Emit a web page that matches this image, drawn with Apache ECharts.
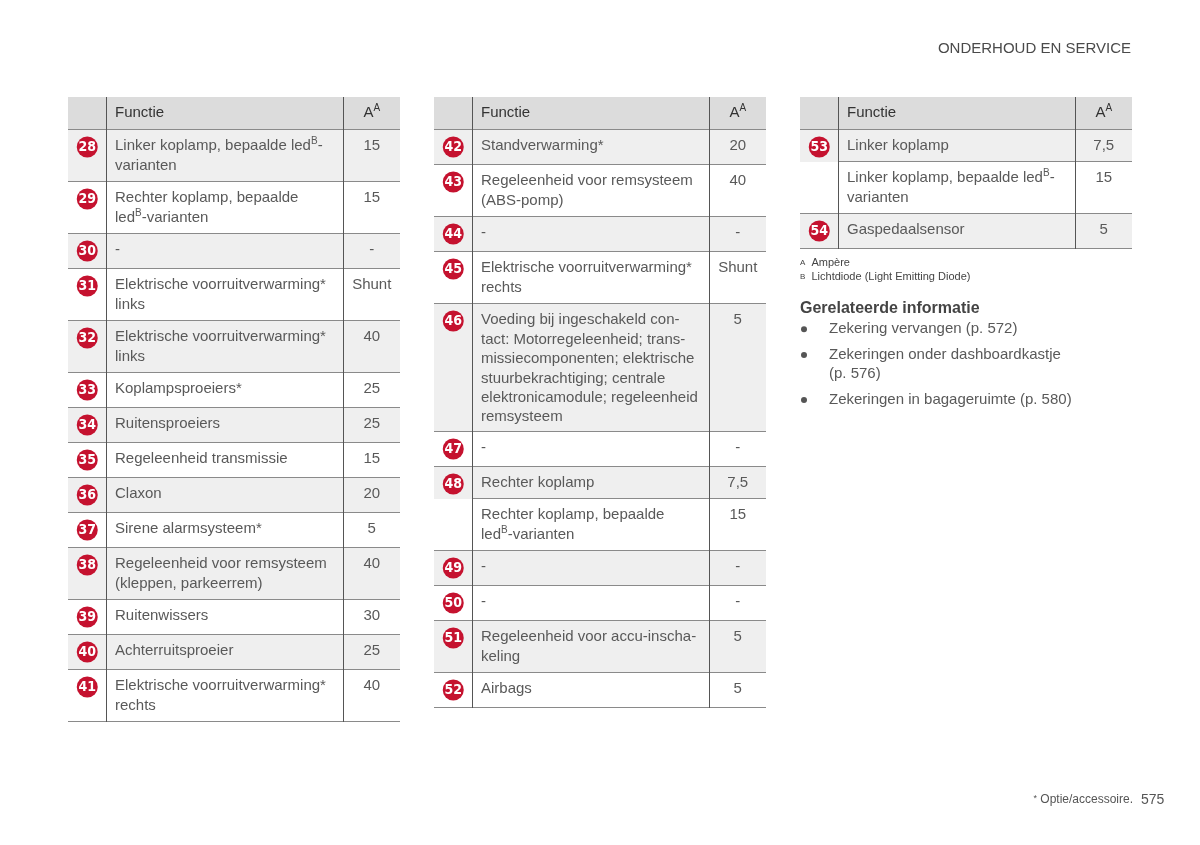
<!DOCTYPE html>
<html>
<head>
<meta charset="utf-8">
<title>Onderhoud en service</title>
<script src="https://cdn.jsdelivr.net/npm/echarts@6/dist/echarts.min.js"></script>
<style>
  html, body { margin: 0; padding: 0; background: #fff; }
  #chart { width: 1200px; height: 845px; }
</style>
</head>
<body>
<div id="chart"></div>
<script>
// tabel 1 (28 - 41)
const fuses1 = ['28', '29', '30', '31', '32', '33', '34', '35', '36', '37', '38', '39', '40', '41'];
const functions1 = [
  'Linker koplamp, bepaalde led^B-\nvarianten',
  'Rechter koplamp, bepaalde\nled^B-varianten',
  '-',
  'Elektrische voorruitverwarming*\nlinks',
  'Elektrische voorruitverwarming*\nlinks',
  'Koplampsproeiers*',
  'Ruitensproeiers',
  'Regeleenheid transmissie',
  'Claxon',
  'Sirene alarmsysteem*',
  'Regeleenheid voor remsysteem\n(kleppen, parkeerrem)',
  'Ruitenwissers',
  'Achterruitsproeier',
  'Elektrische voorruitverwarming*\nrechts'
];
const amps1 = ['15', '15', '-', 'Shunt', '40', '25', '25', '15', '20', '5', '40', '30', '25', '40'];

// tabel 2 (42 - 52), '' = vervolg van de vorige zekering
const fuses2 = ['42', '43', '44', '45', '46', '47', '48', '', '49', '50', '51', '52'];
const functions2 = [
  'Standverwarming*',
  'Regeleenheid voor remsysteem\n(ABS-pomp)',
  '-',
  'Elektrische voorruitverwarming*\nrechts',
  'Voeding bij ingeschakeld con-\ntact: Motorregeleenheid; trans-\nmissiecomponenten; elektrische\nstuurbekrachtiging; centrale\nelektronicamodule; regeleenheid\nremsysteem',
  '-',
  'Rechter koplamp',
  'Rechter koplamp, bepaalde\nled^B-varianten',
  '-',
  '-',
  'Regeleenheid voor accu-inscha-\nkeling',
  'Airbags'
];
const amps2 = ['20', '40', '-', 'Shunt', '5', '-', '7,5', '15', '-', '-', '5', '5'];

// tabel 3 (53 - 54)
const fuses3 = ['53', '', '54'];
const functions3 = [
  'Linker koplamp',
  'Linker koplamp, bepaalde led^B-\nvarianten',
  'Gaspedaalsensor'
];
const amps3 = ['7,5', '15', '5'];

const headerLabels = ['Functie', 'A^A'];
const footnotes = [['A', 'Ampère'], ['B', 'Lichtdiode (Light Emitting Diode)']];
const relatedTitle = 'Gerelateerde informatie';
const relatedLinks = [
  'Zekering vervangen (p. 572)',
  'Zekeringen onder dashboardkastje\n(p. 576)',
  'Zekeringen in bagageruimte (p. 580)'
];
const pageTitle = 'ONDERHOUD EN SERVICE';
const pageNote = 'Optie/accessoire.';
const pageNumber = '575';

const FONT = '"Liberation Sans", Arial, sans-serif';
const TEXT = '#595959';
const LINE_H = 19.4;
const TABLE_TOP = 97;
const TABLE_W = 332;
const HEADER_H = 33;
const BADGE_W = 38;
const VALUE_X = 275;
const tableLeft = [68, 434, 800];

const supRich = {
  sup: { fontSize: 10, fontFamily: FONT, fill: TEXT, verticalAlign: 'top' }
};
function sup(s) {
  return s.replace(/\^(\w)/g, '{sup|$1}');
}

function buildRows(fuses, funcs) {
  let y = HEADER_H;
  const rows = [[0, HEADER_H, -1]];
  for (let i = 0; i < fuses.length; i++) {
    const lines = funcs[i].split('\n').length;
    const grouped = fuses[i] !== '' && fuses[i + 1] === '';
    const h = lines > 1 ? 14 + 19 * lines : (grouped ? 32 : 35);
    rows.push([y, y + h, i]);
    y += h;
  }
  return { rows: rows, height: y };
}

function makeRender(fuses, funcs, amps) {
  return function (params, api) {
    const y0 = api.value(0), y1 = api.value(1), i = api.value(2);
    const tl = api.coord([0, y0]);
    const br = api.coord([TABLE_W, y1]);
    const xb = Math.round(api.coord([BADGE_W, y0])[0]) + 0.5;
    const xv = Math.round(api.coord([VALUE_X, y0])[0]) + 0.5;
    const top = Math.round(tl[1]), bottom = Math.round(br[1]);
    const left = tl[0], right = br[0];
    const isHeader = i < 0;
    const children = [];

    if (isHeader || i % 2 === 0) {
      children.push({
        type: 'rect',
        shape: { x: left, y: top, width: right - left, height: bottom - top },
        style: { fill: isHeader ? '#dcdcdc' : '#efefef' }
      });
    }
    // horizontale lijn onder de rij
    const cont = !isHeader && fuses[i + 1] === '';
    children.push({
      type: 'line',
      shape: { x1: cont ? xb : left, y1: bottom - 0.5, x2: right, y2: bottom - 0.5 },
      style: { stroke: '#8a8a8a', lineWidth: 1 }
    });
    // kolomlijnen
    [xb, xv].forEach(function (x) {
      children.push({
        type: 'line',
        shape: { x1: x, y1: top, x2: x, y2: bottom },
        style: { stroke: '#555', lineWidth: 1 }
      });
    });

    if (isHeader) {
      children.push({
        type: 'text',
        style: {
          text: headerLabels[0], x: xb + 8.5, y: top + 15.5,
          textVerticalAlign: 'middle', font: '15px ' + FONT, fill: '#333'
        }
      });
      children.push({
        type: 'text',
        style: {
          text: sup(headerLabels[1]), x: (xv + right) / 2, y: top + 6,
          textAlign: 'center', textVerticalAlign: 'top', lineHeight: LINE_H,
          font: '15px ' + FONT, fill: '#333',
          rich: { sup: { fontSize: 10, fontFamily: FONT, fill: '#333', verticalAlign: 'top' } }
        }
      });
      return { type: 'group', children: children };
    }

    if (fuses[i] !== '') {
      const cx = left + (xb - left) / 2, cy = top + 17;
      children.push({
        type: 'circle',
        shape: { cx: cx, cy: cy, r: 10.5 },
        style: { fill: '#c5122f' }
      });
      children.push({
        type: 'text',
        style: {
          text: fuses[i], x: cx, y: cy + 0.5, textAlign: 'center', textVerticalAlign: 'middle',
          font: 'bold 14px "Liberation Sans Narrow", "DejaVu Sans Condensed", ' + FONT,
          fill: '#fff'
        }
      });
    }

    children.push({
      type: 'text',
      style: {
        text: sup(funcs[i]), x: xb + 8.5, y: top + 6.5,
        textVerticalAlign: 'top', lineHeight: LINE_H,
        font: '15px ' + FONT, fill: TEXT, rich: supRich
      }
    });
    children.push({
      type: 'text',
      style: {
        text: amps[i], x: (xv + right) / 2, y: top + 6.5,
        textAlign: 'center', textVerticalAlign: 'top', lineHeight: LINE_H,
        font: '15px ' + FONT, fill: TEXT
      }
    });
    return { type: 'group', children: children };
  };
}

const tables = [
  [fuses1, functions1, amps1],
  [fuses2, functions2, amps2],
  [fuses3, functions3, amps3]
];

const grids = [], xAxes = [], yAxes = [], series = [];
tables.forEach(function (t, k) {
  const built = buildRows(t[0], t[1]);
  grids.push({ left: tableLeft[k], top: TABLE_TOP, width: TABLE_W, height: built.height });
  xAxes.push({ type: 'value', gridIndex: k, min: 0, max: TABLE_W, show: false });
  yAxes.push({ type: 'value', gridIndex: k, min: 0, max: built.height, inverse: true, show: false });
  series.push({
    type: 'custom',
    xAxisIndex: k,
    yAxisIndex: k,
    clip: false,
    silent: true,
    renderItem: makeRender(t[0], t[1], t[2]),
    data: built.rows
  });
});

// tekst rechts en rand van de pagina
const graphic = [];
graphic.push({
  type: 'text', x: 1131, y: 49,
  style: { text: pageTitle, textAlign: 'right', textVerticalAlign: 'middle', font: '15px ' + FONT, fill: '#4a4a4a' }
});
graphic.push({
  type: 'text', x: 800, y: 256,
  style: {
    text: footnotes.map(function (f) { return '{s|' + f[0] + '}  ' + f[1]; }).join('\n'),
    textVerticalAlign: 'top', lineHeight: 14, font: '11px ' + FONT, fill: '#444',
    rich: { s: { fontSize: 8, fontFamily: FONT, fill: '#444' } }
  }
});
graphic.push({
  type: 'text', x: 800, y: 309,
  style: { text: relatedTitle, textVerticalAlign: 'middle', font: 'bold 16px ' + FONT, fill: '#444' }
});
let linkTop = 319.5;
relatedLinks.forEach(function (s) {
  graphic.push({
    type: 'circle', shape: { cx: 804, cy: linkTop + 9.7, r: 3 }, style: { fill: '#555' }
  });
  graphic.push({
    type: 'text', x: 829, y: linkTop,
    style: { text: s, textVerticalAlign: 'top', lineHeight: LINE_H, font: '15px ' + FONT, fill: TEXT }
  });
  linkTop += s.split('\n').length * LINE_H + 6.3;
});
graphic.push({
  type: 'text', x: 1133, y: 800,
  style: {
    text: '{s|*} ' + pageNote, textAlign: 'right', textVerticalAlign: 'middle',
    font: '12px ' + FONT, fill: '#555',
    rich: { s: { fontSize: 9, fontFamily: FONT, fill: '#555', verticalAlign: 'top' } }
  }
});
graphic.push({
  type: 'text', x: 1141, y: 800,
  style: { text: pageNumber, textVerticalAlign: 'middle', font: '14px ' + FONT, fill: '#555' }
});

const chart = echarts.init(document.getElementById('chart'));
chart.setOption({
  backgroundColor: '#fff',
  animation: false,
  grid: grids,
  xAxis: xAxes,
  yAxis: yAxes,
  series: series,
  graphic: graphic
});
</script>
</body>
</html>
